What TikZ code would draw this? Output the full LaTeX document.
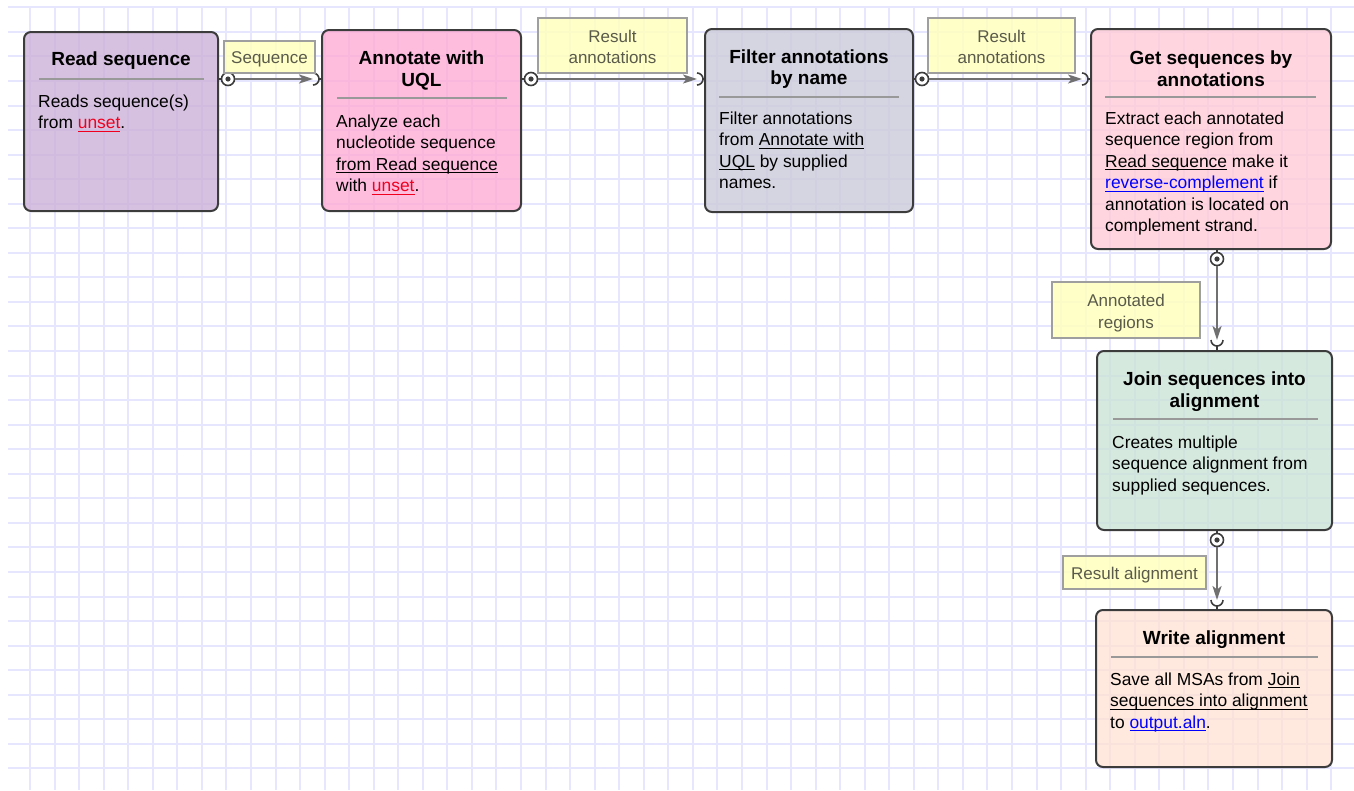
\documentclass[tikz,border=0pt]{standalone}
\usepackage{fontspec}
\setmainfont{Liberation Sans}
\usetikzlibrary{arrows.meta}

\definecolor{gridcol}{RGB}{230,230,255}
\definecolor{edgecol}{RGB}{60,60,60}
\definecolor{linkcol}{RGB}{112,112,112}
\definecolor{readfill}{RGB}{204,177,216}
\definecolor{annotfill}{RGB}{255,172,214}
\definecolor{filterfill}{RGB}{203,203,217}
\definecolor{getfill}{RGB}{255,203,215}
\definecolor{joinfill}{RGB}{204,227,215}
\definecolor{writefill}{RGB}{255,226,212}
\definecolor{lblfill}{RGB}{255,255,190}
\definecolor{lbltext}{RGB}{90,90,75}
\definecolor{linkred}{RGB}{240,0,30}
\definecolor{linkblue}{RGB}{0,0,255}

\newsavebox\ulbox
\newcommand{\ul}[1]{\sbox\ulbox{#1}\rlap{\rule[-2.8pt]{\wd\ulbox}{1.1pt}}\usebox\ulbox}
\newcommand{\lnk}[2]{\textcolor{#1}{\ul{#2}}}

\tikzset{
  gridline/.style={draw=gridcol, line width=2pt},
  blk/.style={draw=edgecol, line width=2pt, rounded corners=7pt, inner sep=0pt, fill opacity=0.8},
  ttl/.style={font=\fontsize{19}{21.5}\selectfont\bfseries, align=center, inner sep=0pt},
  txt/.style={font=\fontsize{17.4}{21.5}\selectfont, align=left, anchor=north west, inner sep=0pt},
  sep/.style={draw=gray!80, line width=1.2pt},
  lblbox/.style={draw=gray!75, fill=lblfill, fill opacity=0.85, line width=1.2pt, inner sep=0pt},
  lbltxt/.style={font=\fontsize{17}{21.5}\selectfont, text=lbltext, align=center, inner sep=0pt},
  link/.style={draw=linkcol, line width=2pt, -{Stealth[length=14pt,width=9pt,inset=3.5pt]}},
  stub/.style={draw=edgecol, line width=1.6pt},
  outport/.style={circle, draw=edgecol, line width=1.6pt, fill=white, minimum size=13pt, inner sep=0pt},
  inport/.style={draw=edgecol, line width=1.6pt},
}

\begin{document}
\begin{tikzpicture}[x=1pt,y=-1pt]
  \useasboundingbox (0,0) rectangle (1354,790);
  % grid
  \foreach \i in {0,...,53} {
    \pgfmathsetmacro\gx{round(30+24.55*\i)}
    \draw[gridline] (\gx,7) -- (\gx,790);
  }
  \foreach \j in {0,...,31} {
    \pgfmathsetmacro\gy{round(7.3+24.55*\j)}
    \draw[gridline] (8,\gy) -- (1354,\gy);
  }

  % Read sequence
  \node[blk, fill=readfill, minimum width=194pt, minimum height=179pt] (read) at (121,121.5) {};
  \node[ttl] (readT) at (121,61) {Read sequence};
  \draw[sep] (39,79) -- (204,79);
  \node[txt] (readB) at (38,94.5) {Reads sequence(s)\\from \lnk{linkred}{unset}.};

  % Annotate with UQL
  \node[blk, fill=annotfill, minimum width=199pt, minimum height=181pt] (annot) at (421.5,120.5) {};
  \node[ttl] (annotT) at (421.5,70.5) {Annotate with\\UQL};
  \draw[sep] (337,98) -- (507,98);
  \node[txt] (annotB) at (336,114.5) {Analyze each\\nucleotide sequence\\\ul{from Read sequence}\\with \lnk{linkred}{unset}.};

  % Filter annotations by name
  \node[blk, fill=filterfill, minimum width=208pt, minimum height=183pt] (filter) at (809,120.5) {};
  \node[ttl] (filterT) at (809,69) {Filter annotations\\by name};
  \draw[sep] (719,97) -- (899,97);
  \node[txt] (filterB) at (719,111.5) {Filter annotations\\from \ul{Annotate with}\\\ul{UQL} by supplied\\names.};

  % Get sequences by annotations
  \node[blk, fill=getfill, minimum width=240pt, minimum height=220pt] (getseq) at (1211,139) {};
  \node[ttl] (getseqT) at (1211,68.5) {Get sequences by\\annotations};
  \draw[sep] (1105,97) -- (1316,97);
  \node[txt] (getseqB) at (1105,111.5) {Extract each annotated\\sequence region from\\\ul{Read sequence} make it\\\lnk{linkblue}{reverse-complement} if\\annotation is located on\\complement strand.};

  % Join sequences into alignment
  \node[blk, fill=joinfill, minimum width=235pt, minimum height=179pt] (join) at (1214.5,440.5) {};
  \node[ttl] (joinT) at (1214.5,391.5) {Join sequences into\\alignment};
  \draw[sep] (1113,419) -- (1318,419);
  \node[txt] (joinB) at (1112,435.5) {Creates multiple\\sequence alignment from\\supplied sequences.};

  % Write alignment
  \node[blk, fill=writefill, minimum width=236pt, minimum height=157pt] (write) at (1214,688.5) {};
  \node[ttl] (writeT) at (1214,640) {Write alignment};
  \draw[sep] (1111,657) -- (1318,657);
  \node[txt] (writeB) at (1110,672.5) {Save all MSAs from \ul{Join}\\\ul{sequences into alignment}\\to \lnk{linkblue}{output.aln}.};

  % ports
  \node[outport] (o1) at (228,79) {};
  \node[outport] (o2) at (531,79) {};
  \node[outport] (o3) at (922,79) {};
  \node[outport] (o4) at (1217,259) {};
  \node[outport] (o5) at (1217,540) {};
  \coordinate (i1) at (313,79);
  \coordinate (i2) at (697,79);
  \coordinate (i3) at (1082,79);
  \coordinate (i4) at (1217,340);
  \coordinate (i5) at (1217,600);

  % stubs
  \draw[stub] (read.east |- o1) -- (o1.west);
  \draw[stub] (annot.east |- o2) -- (o2.west);
  \draw[stub] (filter.east |- o3) -- (o3.west);
  \draw[stub] (getseq.south -| o4) -- (o4.north);
  \draw[stub] (join.south -| o5) -- (o5.north);
  \draw[stub] ([xshift=6pt]i1) -- (annot.west |- i1);
  \draw[stub] ([xshift=6pt]i2) -- (filter.west |- i2);
  \draw[stub] ([xshift=6pt]i3) -- (getseq.west |- i3);
  \draw[stub] ([yshift=-6pt]i4) -- (join.north -| i4);
  \draw[stub] ([yshift=-6pt]i5) -- (write.north -| i5);

  % connectors
  \draw[link] (o1) -- (i1);
  \draw[link] (o2) -- (i2);
  \draw[link] (o3) -- (i3);
  \draw[link] (o4) -- (i4);
  \draw[link] (o5) -- (i5);

  % port marks
  \foreach \p in {o1,o2,o3,o4,o5}
    \fill[edgecol] (\p) circle (2.6pt);
  \foreach \p in {i1,i2,i3}
    \draw[inport] (\p) ++(0,-6) arc[start angle=-90, end angle=90, radius=6];
  \foreach \p in {i4,i5}
    \draw[inport] (\p) ++(6,0) arc[start angle=0, end angle=180, radius=6];

  % labels
  \node[lblbox, minimum width=91pt, minimum height=32pt] (seqL) at (269.5,57) {};
  \node[lbltxt] (seqLt) at (269.5,59.5) {Sequence};
  \node[lblbox, minimum width=149pt, minimum height=55pt] (res1L) at (612.5,45.5) {};
  \node[lbltxt] (res1Lt) at (612.5,47) {Result\\annotations};
  \node[lblbox, minimum width=147pt, minimum height=55pt] (res2L) at (1001.5,45.5) {};
  \node[lbltxt] (res2Lt) at (1001.5,47) {Result\\annotations};
  \node[lblbox, minimum width=148pt, minimum height=56pt] (annregL) at (1126,310) {};
  \node[lbltxt] (annregLt) at (1126,313) {Annotated\\regions};
  \node[lblbox, minimum width=143pt, minimum height=33pt] (resalnL) at (1134.5,572.5) {};
  \node[lbltxt] (resalnLt) at (1134.5,575.5) {Result alignment};
\end{tikzpicture}
\end{document}
